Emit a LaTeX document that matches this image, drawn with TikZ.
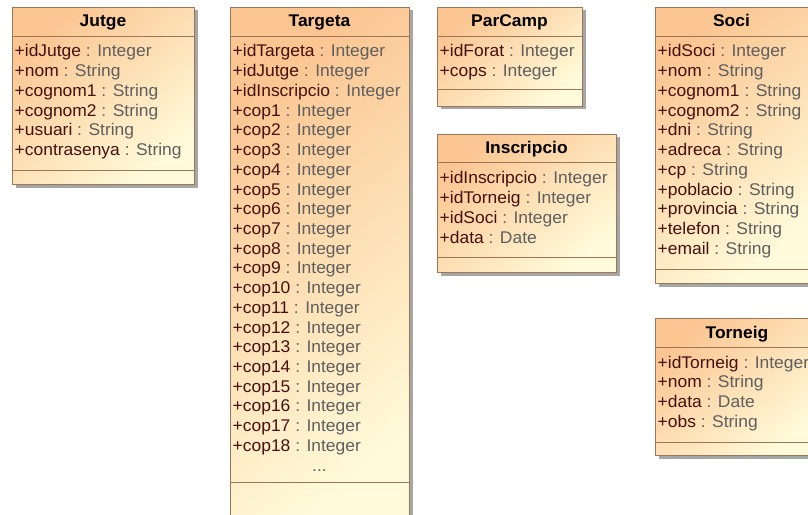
\documentclass[tikz,border=0pt]{standalone}
\usepackage{fontspec}
\setmainfont{Liberation Sans}[FakeStretch=1.03]
\usetikzlibrary{shadows}
\definecolor{boxtop}{RGB}{251,197,145}
\definecolor{boxbot}{RGB}{255,251,218}
\definecolor{boxline}{RGB}{155,118,88}
\definecolor{attrname}{RGB}{70,16,16}
\definecolor{attrtype}{RGB}{95,95,95}
\newcommand\attrtxt[2]{{\color{attrname}+#1} {\color{attrtype}: #2}}
\tikzset{
  classbody/.style={draw=boxline, line width=1bp, top color=boxtop, bottom color=boxbot, shading angle=40,
     drop shadow={shadow xshift=3bp, shadow yshift=-3bp, fill=black!35, opacity=1},
     inner sep=0pt, anchor=north west},
  compsep/.style={draw=boxline, line width=1bp},
  attrrow/.style={anchor=base west, inner sep=0pt, font=\fontsize{17}{19}\selectfont},
  classtitle/.style={anchor=base, inner sep=0pt, font=\fontsize{17}{19}\selectfont\bfseries},
}
% name, x, y, w, h, header height, separator offset, title
\newcommand\umlclass[8]{%
  \node[classbody, minimum width=#4bp, minimum height=#5bp] (#1) at (#2,#3) {};
  \draw[compsep] ([yshift=-#6bp]#1.north west) -- ([yshift=-#6bp]#1.north east);
  \draw[compsep] ([yshift=-#7bp]#1.north west) -- ([yshift=-#7bp]#1.north east);
  \node[classtitle] (#1-title) at ({#2+#4/2},{#3+20}) {#8};
}
\newcommand\umlrows[4]{%
  \foreach \an/\at [count=\i from 0] in {#4}
    \node[attrrow] (#1-r\i) at ({#2+2.5},{#3+50+\i*19.72}) {\attrtxt{\an}{\at}};
}
\begin{document}
\begin{tikzpicture}[x=1bp,y=-1bp]
\useasboundingbox (0,0) rectangle (808,515);
\fill[white] (0,0) rectangle (808,515);
\clip (0,0) rectangle (808,515);

\umlclass{jutge}{12}{7}{182}{177}{30}{163}{Jutge}
\umlrows{jutge}{12}{7}{idJutge/Integer,nom/String,cognom1/String,cognom2/String,usuari/String,contrasenya/String}

\umlclass{targeta}{230}{7}{179}{530}{30}{475}{Targeta}
\umlrows{targeta}{230}{7}{idTargeta/Integer,idJutge/Integer,idInscripcio/Integer,cop1/Integer,cop2/Integer,cop3/Integer,cop4/Integer,cop5/Integer,cop6/Integer,cop7/Integer,cop8/Integer,cop9/Integer,cop10/Integer,cop11/Integer,cop12/Integer,cop13/Integer,cop14/Integer,cop15/Integer,cop16/Integer,cop17/Integer,cop18/Integer}
\node[attrrow, anchor=base, text=attrtype] (targeta-more) at (319.5,471) {...};

\umlclass{parcamp}{437}{7}{145}{99}{30}{83}{ParCamp}
\umlrows{parcamp}{437}{7}{idForat/Integer,cops/Integer}

\umlclass{inscripcio}{437}{134}{179}{138}{29}{123}{Inscripcio}
\umlrows{inscripcio}{437}{134}{idInscripcio/Integer,idTorneig/Integer,idSoci/Integer,data/Date}

\umlclass{soci}{655}{7}{153}{276}{30}{262}{Soci}
\umlrows{soci}{655}{7}{idSoci/Integer,nom/String,cognom1/String,cognom2/String,dni/String,adreca/String,cp/String,poblacio/String,provincia/String,telefon/String,email/String}

\umlclass{torneig}{655}{318}{164}{137}{29}{124}{Torneig}
\umlrows{torneig}{655}{318}{idTorneig/Integer,nom/String,data/Date,obs/String}
\end{tikzpicture}
\end{document}
